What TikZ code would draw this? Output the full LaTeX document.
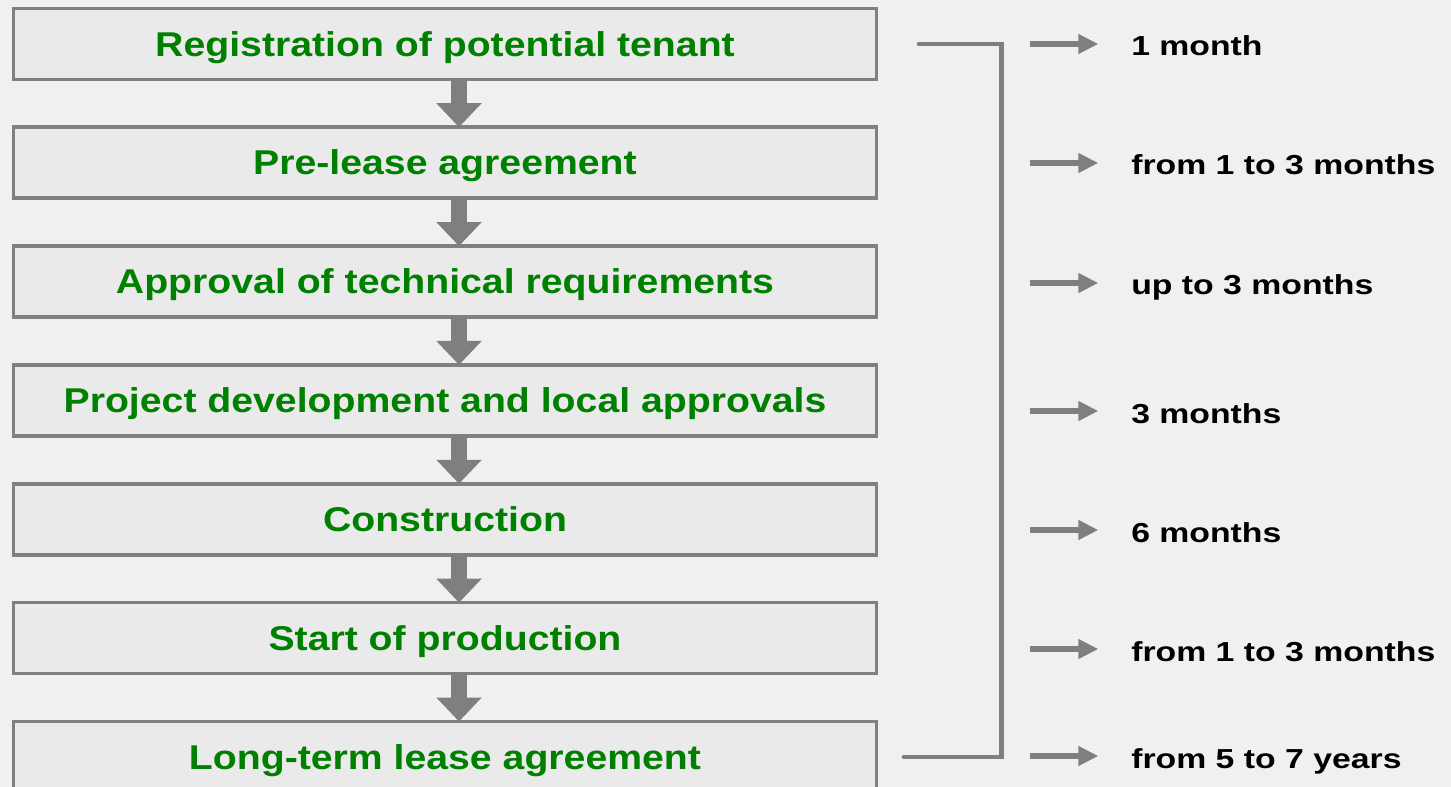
\documentclass[tikz,border=0pt]{standalone}
\usepackage{fontspec}
\setmainfont{Liberation Sans}
\newfontfamily\stepfont[FakeStretch=1.14]{Liberation Sans}
\newfontfamily\timefont[FakeStretch=1.23]{Liberation Sans}
\usetikzlibrary{arrows.meta,positioning}
\definecolor{paper}{RGB}{240,240,240}
\definecolor{boxgray}{RGB}{234,234,234}
\definecolor{framegray}{RGB}{128,128,128}
\definecolor{arrowgray}{RGB}{127,127,127}
\definecolor{stepgreen}{RGB}{0,128,0}

\begin{document}
\begin{tikzpicture}[x=0.75pt, y=-0.75pt, node distance=35.9pt,
        stepbox/.style={rectangle,draw=framegray,fill=boxgray,line width=2.6pt,
          outer sep=0pt,inner sep=0pt,minimum width=647.1pt,minimum height=53.25pt,
          text height=20pt,text depth=1.6pt,align=center,text=stepgreen,
          font=\stepfont\bfseries\fontsize{25.8pt}{30pt}\selectfont},
        downarrow/.style={draw=arrowgray,line width=12pt,-{Triangle[width=33pt,length=18pt]}},
        bracket/.style={draw=arrowgray,line width=3.4pt,line cap=round},
        timearrow/.style={draw=arrowgray,line width=4.2pt,-{Triangle[width=14pt,length=15pt]}},
        timelabel/.style={anchor=west,inner sep=0pt,text height=21pt,text depth=3pt,
          font=\timefont\bfseries\fontsize{20.6pt}{24pt}\selectfont}]
        \fill[paper] (0,0) rectangle (1451,787);
        \useasboundingbox (0,0) rectangle (1451,787);
        % process steps
        \node[stepbox] (reg) at (445,43.8) {Registration of potential tenant};
        \node[stepbox,below=of reg] (pre) {Pre-lease agreement};
        \node[stepbox,below=of pre] (tech) {Approval of technical requirements};
        \node[stepbox,below=of tech] (proj) {Project development and local approvals};
        \node[stepbox,below=of proj] (constr) {Construction};
        \node[stepbox,below=of constr] (prod) {Start of production};
        \node[stepbox,below=of prod] (lease) {Long-term lease agreement};
        \foreach \a/\b in {reg/pre,pre/tech,tech/proj,proj/constr,constr/prod,prod/lease}
          \draw[downarrow] ([xshift=10.5pt]\a.south) -- ([xshift=10.5pt]\b.north);
        % bracket
        \coordinate (brk) at (1001.5,44);
        \draw[bracket] ([xshift=31.9pt]reg.east) -- (reg.east -| brk)
          -- (lease.east -| brk) -- ([xshift=20.6pt]lease.east);
        % durations
        \node[timelabel] (t1) at (1131,44) {1 month};
        \node[timelabel] (t2) at (1131,163) {from 1 to 3 months};
        \node[timelabel] (t3) at (1131,283) {up to 3 months};
        \node[timelabel] (t4) at (1131,411) {3 months};
        \node[timelabel] (t5) at (1131,530) {6 months};
        \node[timelabel] (t6) at (1131,649) {from 1 to 3 months};
        \node[timelabel] (t7) at (1131,756) {from 5 to 7 years};
        \foreach \t in {t1,t2,t3,t4,t5,t6,t7}
          \draw[timearrow] ([xshift=-75.75pt]\t.west) -- ([xshift=-24.5pt]\t.west);
      \end{tikzpicture}
\end{document}
